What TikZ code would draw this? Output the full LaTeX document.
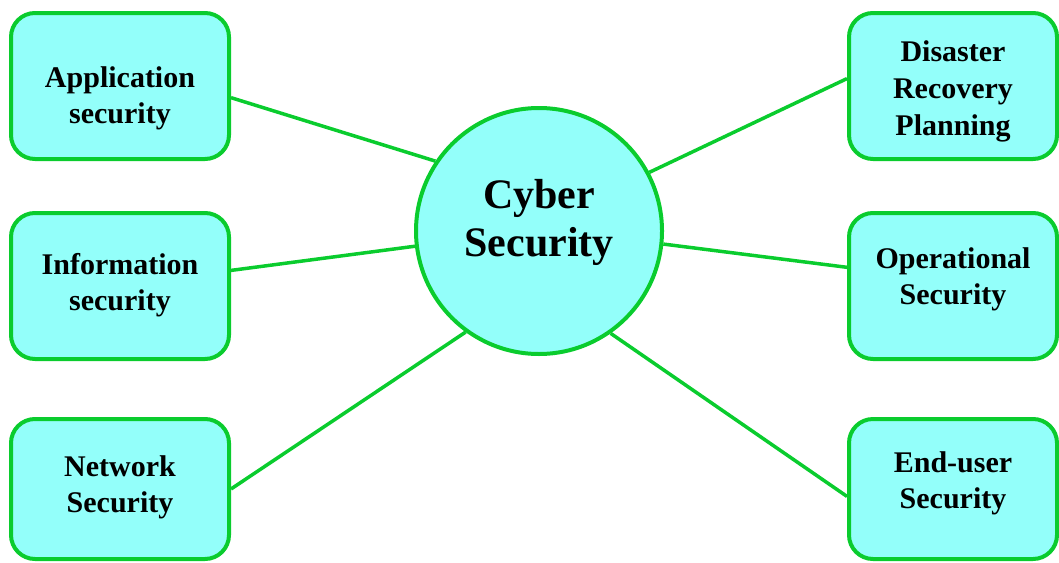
\documentclass[tikz,border=0pt]{standalone}
\usepackage{fontspec}
\setmainfont{Liberation Serif}
\usepackage{xcolor}
\usepackage{tikz}
\usetikzlibrary{calc}
\usetikzlibrary{shapes.geometric}
\definecolor{csgreen}{RGB}{10,204,46}
\definecolor{csfill}{RGB}{147,255,250}
\newcommand{\lbl}[2]{\raisebox{#1}[0pt][0pt]{\begin{tabular}{@{}c@{}}#2\end{tabular}}}
\tikzstyle{box} = [draw=csgreen, fill=csfill, line width=4pt, rounded corners=24pt, font=\fontsize{30}{36}\selectfont\bfseries, inner sep=0]
\tikzstyle{hub} = [draw=csgreen, fill=csfill, line width=4pt, circle, minimum size=246pt, font=\fontsize{42}{48}\selectfont\bfseries, inner sep=0]
\tikzstyle{link} = [-, draw=csgreen, line width=3.5pt]

\begin{document}
\begin{tikzpicture}[x=1pt, y=-1pt]
\useasboundingbox (0, 0) rectangle (1059, 562);
% centre
\node [hub] (C) at (539, 231) {\lbl{1.5pt}{Cyber\\Security}};
% left column
\node [box, minimum width=218pt, minimum height=146pt] (A) at (120, 86) {\lbl{-19pt}{Application\\security}};
\node [box, minimum width=218pt, minimum height=146pt] (I) at (120, 286) {\lbl{-6pt}{Information\\security}};
\node [box, minimum width=218pt, minimum height=140pt] (N) at (120, 489) {\lbl{-5pt}{Network\\Security}};
% right column
\node [box, minimum width=208pt, minimum height=146pt, font=\fontsize{30}{37}\selectfont\bfseries] (D) at (953, 86) {\lbl{-11pt}{Disaster\\Recovery\\Planning}};
\node [box, minimum width=208pt, minimum height=146pt] (O) at (953, 286) {\lbl{0pt}{Operational\\Security}};
\node [box, minimum width=208pt, minimum height=140pt] (E) at (953, 489) {\lbl{-1pt}{End-user\\Security}};
\draw [link] (A.-6) to (C.146);
\draw [link] (I.8) to (C.187);
\draw [link] (N.east) to (C.234);
\draw [link] (D.176) to (C.28);
\draw [link] (O.170) to (C.-6);
\draw [link] (E.184) to (C.-55);
\end{tikzpicture}
\end{document}
